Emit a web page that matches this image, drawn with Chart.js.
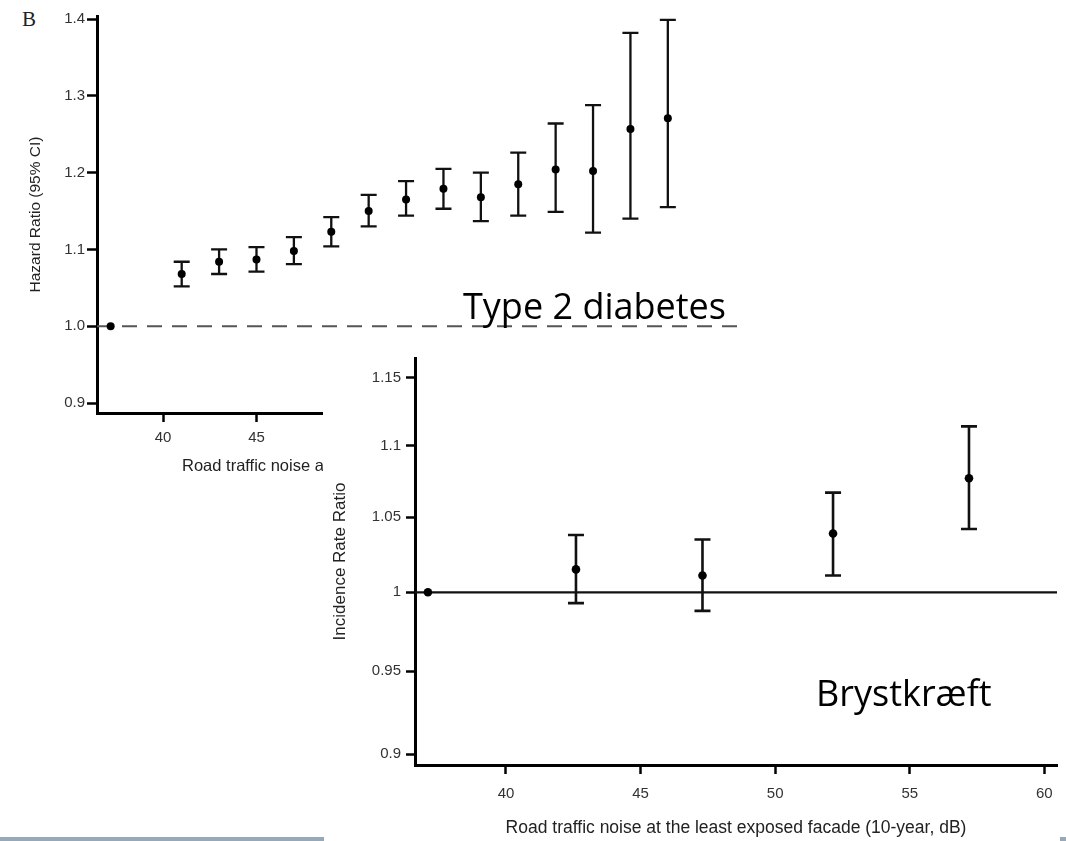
<!DOCTYPE html>
<html>
<head>
<meta charset="utf-8">
<script src="https://cdn.jsdelivr.net/npm/chart.js@4.4.1/dist/chart.umd.min.js"></script>
<style>
  body { margin: 0; background: #fff; }
  #page { position: relative; width: 1066px; height: 841px; overflow: hidden; background: #fff; }
  .box { position: absolute; }
  #boxTop { left: 0; top: 0; width: 760px; height: 480px; }
  #boxBottom { left: 323px; top: 340px; width: 743px; height: 501px; background: #fff; }
  .label { position: absolute; font-family: "Open Sans", sans-serif; color: #000; line-height: 1; white-space: nowrap; }
  #panel { position: absolute; left: 22px; top: 9px; font: 21px "Liberation Serif", serif; line-height: 1; color: #222; }
  .bar { position: absolute; background: #97a9b7; }
</style>
</head>
<body>
<div id="page">
  <div id="panel">B</div>
  <div class="box" id="boxTop"><canvas id="graphTop"></canvas></div>
  <div class="label" id="lblDiabetes" style="left:463px; top:288px; font-size:36px;">Type 2 diabetes</div>
  <div class="box" id="boxBottom"><canvas id="graphBottom"></canvas></div>
  <div class="label" id="lblCancer" style="left:816px; top:675px; font-size:36px;">Brystkræft</div>
  <div class="bar" style="left:0; top:837px; width:324px; height:4px;"></div>
  <div class="bar" style="left:1060px; top:837px; width:6px; height:4px;"></div>
</div>
<script>
// type 2 diabetes (top panel)
var diabetesNoise = [37.2, 41, 43, 45, 47, 49, 51, 53, 55, 57, 59, 61, 63, 65, 67];
var diabetesHR    = [1.000, 1.068, 1.084, 1.087, 1.098, 1.123, 1.150, 1.165, 1.179, 1.168, 1.185, 1.204, 1.202, 1.257, 1.271];
var diabetesLow   = [null, 1.052, 1.068, 1.071, 1.081, 1.104, 1.130, 1.144, 1.153, 1.137, 1.144, 1.149, 1.122, 1.140, 1.155];
var diabetesHigh  = [null, 1.084, 1.100, 1.103, 1.116, 1.142, 1.171, 1.189, 1.205, 1.200, 1.226, 1.264, 1.288, 1.382, 1.399];
var diabetesYTicks = [0.9, 1.0, 1.1, 1.2, 1.3, 1.4];
var diabetesXTicks = [40, 45, 50, 55, 60, 65, 70];

// breast cancer (bottom panel)
var cancerNoise = [37.1, 42.6, 47.3, 52.15, 57.2];
var cancerIRR   = [1.000, 1.015, 1.011, 1.039, 1.077];
var cancerLow   = [null, 0.993, 0.988, 1.011, 1.042];
var cancerHigh  = [null, 1.038, 1.035, 1.067, 1.114];
var cancerYTicks  = [0.9, 0.95, 1, 1.05, 1.1, 1.15];
var cancerYLabels = ['0.9', '0.95', '1', '1.05', '1.1', '1.15'];
var cancerXTicks  = [40, 45, 50, 55, 60];

function toPoints(xs, ys) {
  return xs.map(function (x, i) { return { x: x, y: ys[i] }; });
}

// reference line at 1 and the CI whiskers, drawn under the points
const whiskers = {
  id: 'whiskers',
  beforeDatasetsDraw(chart, args, opts) {
    const ctx = chart.ctx;
    const x = chart.scales.x, y = chart.scales.y;
    const area = chart.chartArea;
    ctx.save();
    // line at ratio 1
    ctx.strokeStyle = opts.refColor;
    ctx.lineWidth = opts.refWidth;
    ctx.setLineDash(opts.refDash);
    const y1 = y.getPixelForValue(1);
    ctx.beginPath();
    ctx.moveTo(area.left, y1);
    ctx.lineTo(area.right, y1);
    ctx.stroke();
    ctx.setLineDash([]);
    // whiskers
    ctx.strokeStyle = '#111';
    ctx.lineWidth = opts.width;
    opts.xs.forEach(function (v, i) {
      if (opts.lo[i] == null) return;
      const px = x.getPixelForValue(v);
      const top = y.getPixelForValue(opts.hi[i]);
      const bot = y.getPixelForValue(opts.lo[i]);
      const c = opts.cap / 2;
      ctx.beginPath();
      ctx.moveTo(px, top); ctx.lineTo(px, bot);
      ctx.moveTo(px - c, top); ctx.lineTo(px + c, top);
      ctx.moveTo(px - c, bot); ctx.lineTo(px + c, bot);
      ctx.stroke();
    });
    ctx.restore();
  }
};

const tickFont = { family: 'Liberation Sans, Arial', size: 15 };

const configTop = {
  type: 'scatter',
  data: {
    datasets: [{
      data: toPoints(diabetesNoise, diabetesHR),
      pointRadius: 4,
      pointBackgroundColor: '#000',
      pointBorderWidth: 0,
      pointHoverRadius: 4
    }]
  },
  options: {
    responsive: true,
    maintainAspectRatio: false,
    animation: false,
    events: [],
    layout: { padding: { top: 16, right: 20, left: 0, bottom: 0 } },
    plugins: {
      legend: { display: false },
      tooltip: { enabled: false },
      whiskers: {
        xs: diabetesNoise, lo: diabetesLow, hi: diabetesHigh,
        width: 2.3, cap: 16,
        refColor: '#555', refWidth: 2, refDash: [15, 10]
      }
    },
    scales: {
      x: {
        type: 'linear',
        min: 36.47, max: 70.86,
        afterFit: function (s) { s.height = 67; },
        afterBuildTicks: function (s) { s.ticks = diabetesXTicks.map(function (v) { return { value: v }; }); },
        border: { display: true, color: '#000', width: 3 },
        grid: { drawOnChartArea: false, tickLength: 9, tickWidth: 2.5, tickColor: '#000' },
        ticks: { color: '#333', font: tickFont, padding: 7, maxRotation: 0, autoSkip: false },
        title: {
          display: true,
          text: 'Road traffic noise at the most exposed facade (5-year mean, dB)',
          color: '#222',
          font: { family: 'Liberation Sans, Arial', size: 16.5 },
          padding: { top: 0, bottom: 4 }
        }
      },
      y: {
        type: 'linear',
        min: 0.887, max: 1.404,
        afterFit: function (s) { s.width = 97; },
        afterBuildTicks: function (s) { s.ticks = diabetesYTicks.map(function (v) { return { value: v }; }); },
        border: { display: true, color: '#000', width: 3 },
        grid: { drawOnChartArea: false, tickLength: 10, tickWidth: 2.5, tickColor: '#000' },
        ticks: {
          color: '#333', font: tickFont, padding: 2,
          callback: function (v) { return v.toFixed(1); }
        },
        title: {
          display: true,
          text: 'Hazard Ratio (95% CI)',
          color: '#222',
          font: { family: 'Liberation Sans, Arial', size: 15.5 },
          padding: { top: 26, bottom: 0 }
        }
      }
    }
  },
  plugins: [whiskers]
};

const configBottom = {
  type: 'scatter',
  data: {
    datasets: [{
      data: toPoints(cancerNoise, cancerIRR),
      pointRadius: 4.3,
      pointBackgroundColor: '#000',
      pointBorderWidth: 0,
      pointHoverRadius: 4.3
    }]
  },
  options: {
    responsive: true,
    maintainAspectRatio: false,
    animation: false,
    events: [],
    layout: { padding: { top: 18, right: 9, left: 0, bottom: 0 } },
    plugins: {
      legend: { display: false },
      tooltip: { enabled: false },
      whiskers: {
        xs: cancerNoise, lo: cancerLow, hi: cancerHigh,
        width: 2.6, cap: 16,
        refColor: '#111', refWidth: 2.3, refDash: []
      }
    },
    scales: {
      x: {
        type: 'linear',
        min: 36.62, max: 60.47,
        afterFit: function (s) { s.height = 76; },
        afterBuildTicks: function (s) { s.ticks = cancerXTicks.map(function (v) { return { value: v }; }); },
        border: { display: true, color: '#000', width: 3 },
        grid: { drawOnChartArea: false, tickLength: 9, tickWidth: 2.5, tickColor: '#000' },
        ticks: { color: '#333', font: tickFont, padding: 11, maxRotation: 0, autoSkip: false },
        title: {
          display: true,
          text: 'Road traffic noise at the least exposed facade (10-year, dB)',
          color: '#222',
          font: { family: 'Liberation Sans, Arial', size: 17.5 },
          padding: { top: 0, bottom: 2 }
        }
      },
      y: {
        type: 'logarithmic',
        min: 0.8937, max: 1.1647,
        bounds: 'data',
        afterBuildTicks: function (s) {
          s.ticks = cancerYTicks.map(function (v) { return { value: v }; });
          s.min = 0.8937;
          s.max = 1.1647;
        },
        afterFit: function (s) { s.width = 92; },
        border: { display: true, color: '#000', width: 3 },
        grid: { drawOnChartArea: false, tickLength: 9, tickWidth: 2.5, tickColor: '#000' },
        ticks: {
          color: '#333', font: tickFont, padding: 5,
          callback: function (v) { var i = cancerYTicks.indexOf(v); return i < 0 ? '' : cancerYLabels[i]; }
        },
        title: {
          display: true,
          text: 'Incidence Rate Ratio',
          color: '#222',
          font: { family: 'Liberation Sans, Arial', size: 17 },
          padding: { top: 7, bottom: 0 }
        }
      }
    }
  },
  plugins: [whiskers]
};

var chartTop = new Chart(document.getElementById('graphTop'), configTop);
var chartBottom = new Chart(document.getElementById('graphBottom'), configBottom);
</script>
</body>
</html>
